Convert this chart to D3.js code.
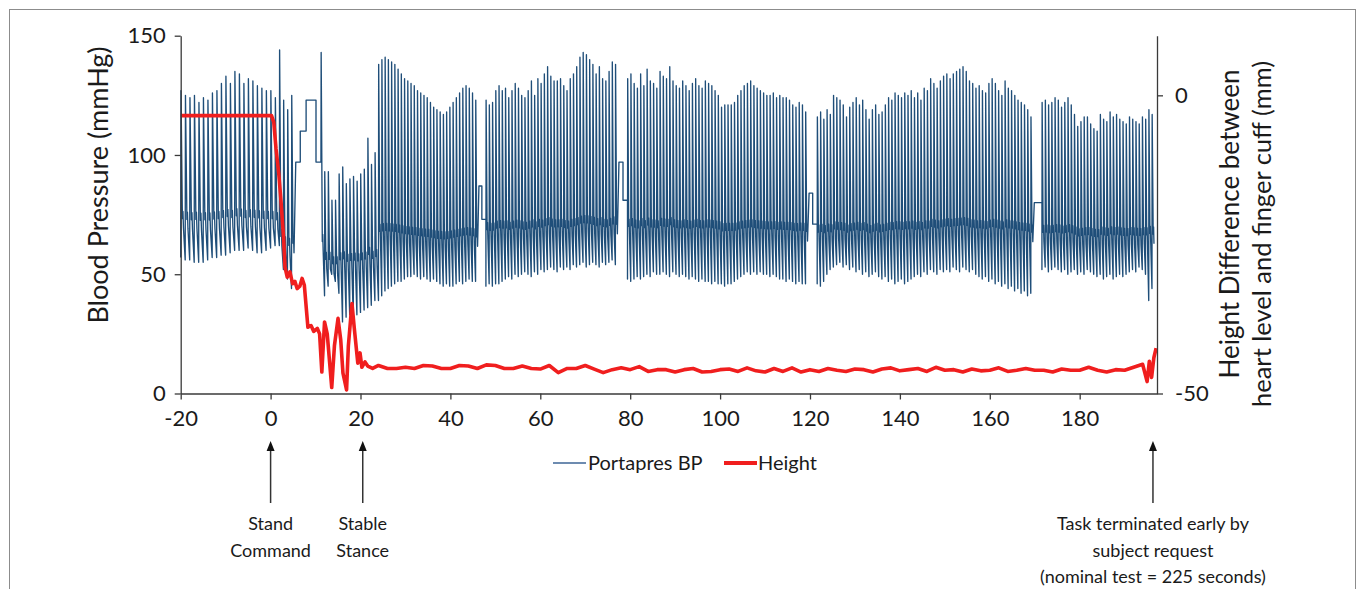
<!DOCTYPE html>
<html>
<head>
<meta charset="utf-8">
<script src="https://d3js.org/d3.v7.min.js"></script>
<style>
  body { margin: 0; background: #fff; }
  svg text { font-family: Lato, "DejaVu Sans", sans-serif; fill: #1a1a1a; }
  .axis path, .axis line { stroke: #3a3a3a; stroke-width: 1.3; }
  .axis text { font-size: 22px; }
</style>
</head>
<body>
<div id="chart"></div>
<script>
// Step One: the data
//==============================================================
var xTicks = [-20, 0, 20, 40, 60, 80, 100, 120, 140, 160, 180];
var bpTicks = [0, 50, 100, 150];
var heightTicks = [-50, 0];

// Portapres BP: runs of beats (start time s, beat period s, band level of the dicrotic notch mmHg)
var runStart = [-20, 1.95, 11.2, 24.0, 47.9, 79.4, 121.6, 171.6];
var runPeriod = [1.0, 0.9, 0.8, 0.72, 0.72, 0.72, 0.72, 0.72];
var runBand = [70, 60, 58, 63, 66, 66, 66, 65];

// systolic peak of each beat (mmHg), one list per run
var systolic = [
  [127, 125, 124, 125, 122, 124, 123, 126, 127, 130, 133, 130, 135, 134, 130, 132, 131, 129, 128, 127, 127, 124],
  [144, 123, 119, 125],
  [143, 93, 93, 81, 81, 92, 95, 88, 90, 91, 89, 92, 94, 107, 96, 101],
  [138, 140, 141, 140, 139, 138, 136, 134, 132, 131, 130, 129, 127, 126, 125, 124, 122, 120, 119, 118,
   117, 118, 120, 122, 124, 126, 128, 129, 128, 126, 123],
  [123, 121, 122, 127, 129, 127, 128, 124, 127, 130, 128, 125, 124, 127, 131, 125, 132, 130, 134, 137,
   133, 131, 131, 132, 129, 127, 132, 134, 137, 141, 143, 142, 140, 138, 134, 137, 132, 131, 135, 139, 138],
  [132, 134, 130, 128, 134, 129, 136, 131, 130, 128, 135, 133, 132, 137, 131, 129, 128, 131, 129, 127,
   130, 132, 129, 128, 131, 130, 129, 127, 125, 120, 121, 121, 121, 122, 125, 127, 129, 130, 131, 129,
   128, 127, 126, 125, 125, 126, 124, 125, 124, 124, 123, 121, 120, 122, 121, 118],
  [116, 118, 115, 119, 117, 125, 124, 123, 121, 116, 120, 122, 124, 121, 123, 119, 115, 119, 121, 117,
   118, 121, 124, 123, 126, 125, 124, 126, 125, 127, 124, 126, 123, 128, 127, 132, 130, 128, 131, 133,
   134, 132, 134, 135, 136, 137, 135, 131, 130, 128, 129, 127, 126, 130, 132, 130, 127, 125, 131, 128,
   127, 125, 123, 122, 121, 119, 116],
  [122, 123, 121, 122, 124, 123, 120, 122, 124, 121, 117, 112, 114, 116, 116, 113, 111, 110, 117, 115,
   114, 118, 116, 117, 115, 114, 113, 116, 115, 114, 113, 116, 115, 119, 117]
];

// diastolic trough of each beat (mmHg)
var diastolic = [
  [57, 56, 56, 55, 55, 55, 56, 57, 57, 58, 58, 59, 60, 60, 60, 61, 60, 59, 59, 60, 61, 62],
  [62, 52, 48, 44],
  [97, 41, 45, 50, 47, 42, 30, 32, 33, 31, 33, 34, 35, 36, 37, 39],
  [39, 41, 43, 44, 45, 46, 47, 47, 48, 49, 49, 50, 49, 48, 49, 48, 47, 48, 47, 46,
   45, 46, 45, 45, 46, 47, 46, 47, 48, 47, 47],
  [45, 46, 45, 46, 46, 47, 48, 49, 48, 50, 49, 50, 51, 50, 49, 51, 50, 52, 51, 52,
   53, 52, 51, 53, 52, 53, 52, 54, 53, 54, 55, 53, 54, 55, 54, 53, 55, 54, 55, 56, 54],
  [48, 47, 48, 49, 48, 49, 50, 49, 51, 50, 50, 51, 50, 49, 51, 50, 49, 50, 49, 48,
   49, 48, 47, 48, 47, 47, 46, 47, 46, 46, 45, 46, 46, 47, 48, 49, 50, 51, 50, 51,
   50, 51, 50, 50, 49, 50, 49, 48, 48, 47, 48, 47, 46, 47, 46, 46],
  [46, 45, 47, 50, 52, 53, 54, 55, 53, 54, 52, 53, 51, 52, 50, 51, 49, 50, 51, 49,
   48, 49, 47, 48, 46, 47, 48, 46, 47, 48, 49, 50, 49, 51, 50, 52, 51, 50, 52, 51,
   52, 51, 53, 52, 51, 53, 52, 51, 52, 50, 49, 48, 49, 47, 48, 46, 47, 45, 46, 44,
   45, 43, 44, 42, 43, 41, 42],
  [52, 53, 51, 52, 53, 52, 51, 52, 50, 51, 52, 50, 51, 50, 52, 51, 50, 49, 50, 48,
   49, 50, 48, 49, 50, 49, 50, 51, 52, 51, 53, 52, 50, 39, 44]
];

// flat calibration stretches of the finger cuff: [time s, mmHg], drawn after the run named in calibAfter
var calibAfter = [1, 3, 4, 5, 6];
var calibSteps = [
  [[5.6, 97], [6.6, 97], [6.6, 110], [7.9, 110], [7.9, 123], [10.1, 123], [10.1, 97], [11.1, 97]],
  [[46.35, 87], [47.0, 87], [47.0, 73], [47.9, 73]],
  [[77.5, 97], [78.4, 97], [78.4, 81], [79.4, 81]],
  [[119.8, 84], [120.6, 84], [120.6, 71], [121.6, 71]],
  [[169.9, 80], [171.6, 80]]
];

// Height difference heart - finger cuff: [time s, mm]
var heightPts = [
  [-20, -3.4], [0.2, -3.4], [0.7, -4.5], [1.2, -8.9], [1.8, -13], [2.3, -17.6], [2.9, -24], [3.2, -28.8],
  [3.7, -30.5], [4.3, -29.6], [4.9, -31.6], [5.4, -31.2], [5.9, -32.4], [6.5, -32.0], [7.0, -30.7], [7.5, -31.8],
  [8.3, -38.9], [9.0, -38.6], [9.6, -39.6], [10.4, -39.1], [10.9, -40], [11.4, -46.4], [12.0, -38.0], [12.6, -40],
  [13.6, -49], [14.2, -42], [15.0, -37.4], [15.6, -41], [16.1, -46.6], [16.9, -49.4], [17.3, -42], [18.1, -34.9],
  [18.6, -38.9], [19.4, -44.9], [19.9, -43.2], [20.3, -45.6], [21.0, -44.7], [21.6, -45.4], [22.7, -45.8], [24, -45.3],
  [26, -45.8], [28, -45.8], [30, -45.6], [32, -45.8], [34, -45.3], [36, -45.4], [38, -45.8], [40, -45.8],
  [42, -45.3], [44, -45.4], [46, -45.8], [48, -45.2], [50, -45.3], [52, -45.8], [54, -45.8], [56, -45.4],
  [58, -45.8], [60, -45.9], [62, -45.3], [64, -46.5], [66, -45.8], [68, -45.8], [70, -45.3], [72, -45.9],
  [74, -46.5], [76, -46.0], [78, -45.7], [80, -46.0], [82, -45.5], [84, -46.3], [86, -46.0], [88, -46.0],
  [90, -46.4], [92, -46.0], [94, -45.8], [96, -46.4], [98, -46.3], [100, -46.0], [102, -45.9], [104, -46.3],
  [106, -45.7], [108, -46.2], [110, -46.4], [112, -45.8], [114, -46.3], [116, -45.7], [118, -46.4], [120, -46.0],
  [122, -46.3], [124, -45.8], [126, -46.1], [128, -46.3], [130, -45.9], [132, -46.0], [134, -46.4], [136, -45.9],
  [138, -45.7], [140, -46.2], [142, -46.0], [144, -45.8], [146, -46.3], [148, -45.6], [150, -46.1], [152, -46.0],
  [154, -46.4], [156, -45.9], [158, -46.2], [160, -46.1], [162, -45.7], [164, -46.3], [166, -46.1], [168, -45.8],
  [170, -46.1], [172, -46.1], [174, -46.4], [176, -45.9], [178, -46.1], [180, -46.1], [182, -45.6], [184, -46.1],
  [186, -46.4], [188, -46.0], [190, -46.1], [192, -45.6], [194, -45.1], [195.0, -48.0], [195.5, -44.6],
  [196.0, -47.3], [196.5, -44.0], [197.0, -42.4]
];

// annotations under the axis
var noteTimes = [0, 20.5, 196.3];
var noteLines = [["Stand", "Command"], ["Stable", "Stance"],
  ["Task terminated early by", "subject request", "(nominal test = 225 seconds)"]];

// Step Two: svg and scales
//==============================================================
var svgWidth = 1358;
var svgHeight = 589;

var svg = d3.select("#chart")
  .append("svg")
  .attr("width", svgWidth)
  .attr("height", svgHeight);

// grey frame of the figure
svg.append("rect")
  .attr("x", 9.5).attr("y", 9.5)
  .attr("width", 1346).attr("height", 600)
  .attr("fill", "none")
  .attr("stroke", "#8c8c8c");

var xScale = d3.scaleLinear().domain([-20, 197.2]).range([180.7, 1157]);
var yBP = d3.scaleLinear().domain([0, 150]).range([393.5, 35.7]);
var yHeight = d3.scaleLinear().domain([-50, 10]).range([393.5, 35.7]);

// Step Three: build the BP trace, one small pulse per beat
//==============================================================
var bpPoints = [];
runStart.forEach(function(t0, r) {
  var T = runPeriod[r];
  var sys = systolic[r];
  var dia = diastolic[r];
  sys.forEach(function(s, i) {
    var t = t0 + i * T;
    var notch = runBand[r] + 0.15 * (s - 125);
    bpPoints.push([t, dia[i]]);
    bpPoints.push([t + 0.06 * T, s]);
    bpPoints.push([t + 0.38 * T, notch + 3]);
    bpPoints.push([t + 0.5 * T, notch + 6]);
    bpPoints.push([t + 0.62 * T, notch - 1]);
  });
  var c = calibAfter.indexOf(r);
  if (c >= 0) {
    calibSteps[c].forEach(function(p) { bpPoints.push(p); });
  }
});

var bpLine = d3.line()
  .x(d => xScale(d[0]))
  .y(d => yBP(d[1]));

svg.append("path")
  .datum(bpPoints)
  .attr("d", bpLine)
  .attr("fill", "none")
  .attr("stroke", "#1f4e79")
  .attr("stroke-width", 1.35)
  .attr("stroke-linejoin", "round");

var heightLine = d3.line()
  .x(d => xScale(d[0]))
  .y(d => yHeight(d[1]));

svg.append("path")
  .datum(heightPts)
  .attr("d", heightLine)
  .attr("fill", "none")
  .attr("stroke", "#f01e1e")
  .attr("stroke-width", 3.6)
  .attr("stroke-linejoin", "round");

// Step Four: axes
//==============================================================
svg.append("g")
  .attr("class", "axis")
  .attr("transform", "translate(0, 393.5)")
  .call(d3.axisBottom(xScale).tickValues(xTicks).tickSize(6).tickSizeOuter(0)
    .tickPadding(11).tickFormat(d => String(d)));

svg.append("g")
  .attr("class", "axis")
  .attr("transform", "translate(180.7, 0)")
  .call(d3.axisLeft(yBP).tickValues(bpTicks).tickSize(6).tickSizeOuter(0).tickPadding(9));

svg.append("g")
  .attr("class", "axis")
  .attr("transform", "translate(1157, 0)")
  .call(d3.axisRight(yHeight).tickValues(heightTicks).tickSize(6).tickSizeOuter(0)
    .tickPadding(12).tickFormat(d => String(d)));

// axis titles
svg.append("text")
  .attr("transform", "translate(108, 185) rotate(-90)")
  .attr("text-anchor", "middle")
  .style("font-size", "27px")
  .text("Blood Pressure (mmHg)");

svg.append("text")
  .attr("transform", "translate(1239, 224) rotate(-90)")
  .attr("text-anchor", "middle")
  .style("font-size", "26px")
  .text("Height Difference between");

svg.append("text")
  .attr("transform", "translate(1271, 234) rotate(-90)")
  .attr("text-anchor", "middle")
  .style("font-size", "25.5px")
  .text("heart level and finger cuff (mm)");

// Step Five: legend
//==============================================================
var legend = svg.append("g").attr("transform", "translate(0, 463)");
legend.append("line")
  .attr("x1", 553).attr("x2", 586).attr("y1", 0).attr("y2", 0)
  .attr("stroke", "#3d6496").attr("stroke-width", 1.6);
legend.append("text")
  .attr("x", 588).attr("y", 7)
  .style("font-size", "20px")
  .text("Portapres BP");
legend.append("line")
  .attr("x1", 724).attr("x2", 757).attr("y1", 0).attr("y2", 0)
  .attr("stroke", "#f01e1e").attr("stroke-width", 4);
legend.append("text")
  .attr("x", 758).attr("y", 7)
  .style("font-size", "20px")
  .text("Height");

// Step Six: arrows and notes
//==============================================================
noteTimes.forEach(function(t, i) {
  var xp = xScale(t);
  svg.append("line")
    .attr("x1", xp).attr("x2", xp)
    .attr("y1", 503).attr("y2", 449)
    .attr("stroke", "#333").attr("stroke-width", 1.5);
  svg.append("path")
    .attr("d", "M" + xp + ",441 L" + (xp - 4) + ",451 L" + (xp + 4) + ",451 Z")
    .attr("fill", "#111");
  noteLines[i].forEach(function(s, j) {
    svg.append("text")
      .attr("x", xp)
      .attr("y", 530 + j * 26.5)
      .attr("text-anchor", "middle")
      .style("font-size", "18px")
      .text(s);
  });
});
</script>
</body>
</html>
